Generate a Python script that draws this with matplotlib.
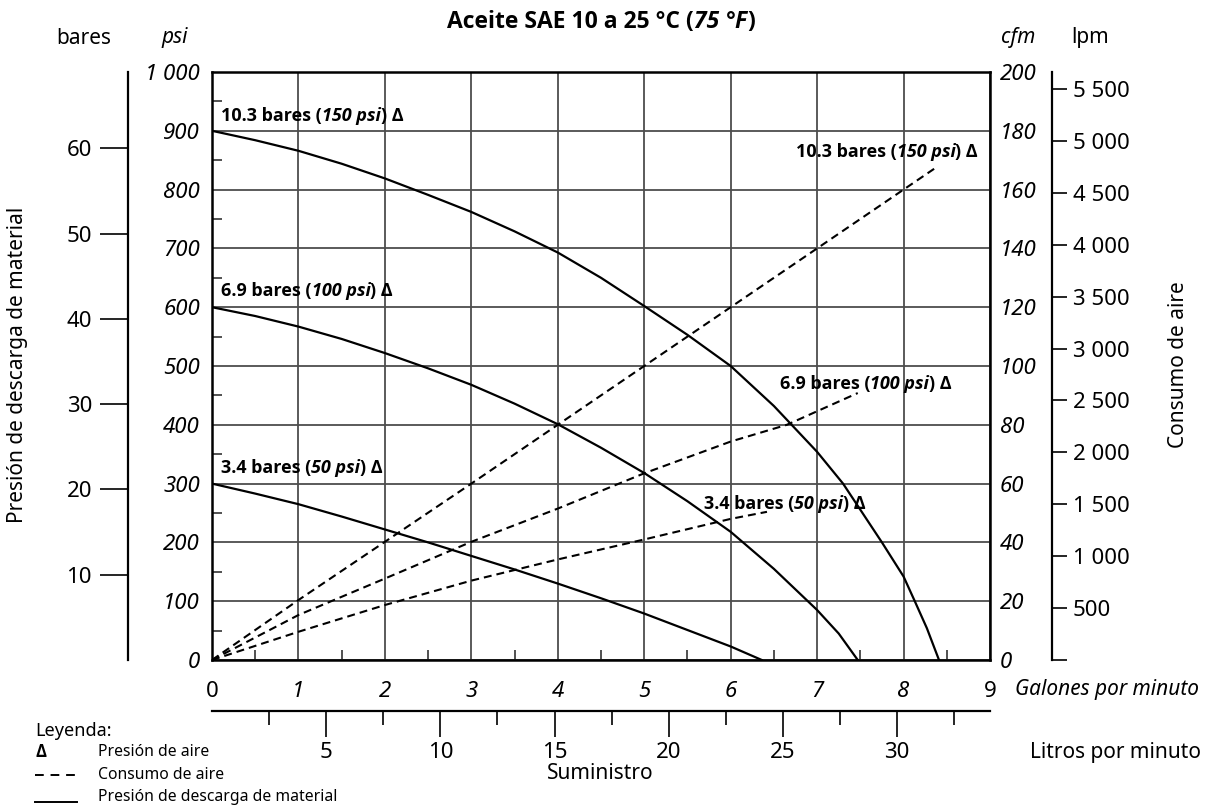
import matplotlib
matplotlib.use('Agg')
import matplotlib.pyplot as plt
from matplotlib import font_manager as fm
from matplotlib.ticker import MultipleLocator, FixedLocator
from matplotlib.lines import Line2D

plt.rcParams['font.family'] = ['Noto Sans', 'DejaVu Sans']


def _w(v):
    if isinstance(v, str):
        return fm.weight_dict.get(v, 400)
    return v


def pick_bold_family():
    cands = ['Noto Sans', 'Open Sans', 'Fira Sans', 'Roboto', 'Lato', 'Inter',
             'Liberation Sans', 'DejaVu Sans']
    for fam in cands:
        ents = [f for f in fm.fontManager.ttflist if f.name == fam]
        b = any(_w(f.weight) >= 600 and f.style == 'normal' for f in ents)
        bi = any(_w(f.weight) >= 600 and f.style in ('italic', 'oblique') for f in ents)
        if b and bi:
            return fam
    return 'DejaVu Sans'


BOLD_FAM = [pick_bold_family(), 'DejaVu Sans']

# ---------------- data ----------------
# material discharge pressure (psi) vs flow (gpm)
gpm_150 = [0, 0.5, 1, 1.5, 2, 2.5, 3, 3.5, 4, 4.5, 5, 5.5, 6, 6.5, 7, 7.3, 7.75, 8,
           8.13, 8.27, 8.41]
psi_150 = [900, 884, 866, 844, 819, 791, 762, 729, 693, 650, 602, 553, 500, 432, 354,
           300, 200, 142, 100, 54, 0]
gpm_100 = [0, 0.5, 1, 1.5, 2, 2.5, 3, 3.5, 4, 4.5, 5, 5.5, 6, 6.5, 7, 7.25, 7.47]
psi_100 = [600, 585, 567, 546, 522, 496, 468, 436, 401, 361, 318, 270, 218, 155, 85,
           45, 0]
gpm_50 = [0, 0.5, 1, 1.5, 2, 2.5, 3, 3.5, 4, 4.5, 5, 5.5, 6, 6.36]
psi_50 = [300, 283, 265, 244, 222, 200, 177, 154, 130, 105, 79, 51, 23, 0]
# air consumption (cfm) vs flow (gpm)
gpm_c150 = [0, 1, 2, 3, 4, 5, 6, 7, 8, 8.4]
cfm_c150 = [0, 20.4, 40.2, 60, 80, 100, 120, 140, 160, 168]
gpm_c100 = [0, 1, 2, 3, 4, 5, 6, 6.65, 7.47]
cfm_c100 = [0, 15.3, 27.7, 40.2, 51.5, 63.5, 74.3, 80, 90.8]
gpm_c50 = [0, 1, 2, 3, 4, 5, 6, 6.42]
cfm_c50 = [0, 9.6, 18.7, 27, 34.2, 41, 48, 50.4]

gpm_ticks = list(range(10))
psi_ticks = list(range(0, 1001, 100))
psi_labels = ['0', '100', '200', '300', '400', '500', '600', '700', '800', '900', '1 000']
cfm_ticks = list(range(0, 201, 20))
bar_ticks = [10, 20, 30, 40, 50, 60]
lpm_ticks = list(range(0, 5501, 500))
lpm_labels = ['', '500', '1 000', '1 500', '2 000', '2 500', '3 000', '3 500',
              '4 000', '4 500', '5 000', '5 500']
lit_major = [5, 10, 15, 20, 25, 30]
lit_minor = [2.5, 7.5, 12.5, 17.5, 22.5, 27.5, 32.5]

PSI_PER_BAR = 14.5038
LPM_PER_CFM = 28.3168
L_PER_GAL = 3.78541
PT = 0.72  # points per pixel at dpi 100

# ---------------- figure ----------------
W, H = 1213, 805
fig = plt.figure(figsize=(W / 100, H / 100), dpi=100)
L, R, T, B = 212, 990, 72, 660
ax = fig.add_axes([L / W, 1 - B / H, (R - L) / W, (B - T) / H])
ax.set_xlim(0, 9)
ax.set_ylim(0, 1000)
ax.set_xticks(gpm_ticks)
ax.set_yticks(psi_ticks)
ax.set_yticklabels(psi_labels)
ax.grid(True, color='#4d4d4d', lw=1.3)
ax.set_axisbelow(True)
ax.xaxis.set_minor_locator(MultipleLocator(0.5))
ax.yaxis.set_minor_locator(MultipleLocator(50))
ax.tick_params(which='major', length=0)
ax.tick_params(axis='y', which='major', labelsize=16, pad=12 * PT)
ax.tick_params(axis='x', which='major', labelsize=16, pad=21 * PT)
ax.tick_params(which='minor', direction='in', length=10 * PT, width=1.2, color='#333333',
               left=True, right=True, bottom=True, top=False)
for lbl in ax.get_yticklabels():
    lbl.set_style('italic')
xl = ax.get_xticklabels()
for i, lbl in enumerate(xl):
    if 0 < i < len(xl) - 1:
        lbl.set_style('italic')
for s in ax.spines.values():
    s.set_linewidth(1.8)

ax2 = ax.twinx()
ax2.set_ylim(0, 200)
ax2.set_yticks(cfm_ticks)
ax2.tick_params(which='major', length=0, labelsize=16, pad=10 * PT)
for lbl in ax2.get_yticklabels():
    lbl.set_style('italic')
for s in ax2.spines.values():
    s.set_visible(False)

# curves
for g, p in [(gpm_150, psi_150), (gpm_100, psi_100), (gpm_50, psi_50)]:
    ax.plot(g, p, color='black', lw=1.6, zorder=5, solid_joinstyle='round')
for g, c in [(gpm_c150, cfm_c150), (gpm_c100, cfm_c100), (gpm_c50, cfm_c50)]:
    ax2.plot(g, c, color='black', lw=1.5, dashes=(3.8, 2.4), zorder=2)

# bares axis
sec_bar = ax.secondary_yaxis(-(L - 128) / (R - L),
                             functions=(lambda p: p / PSI_PER_BAR, lambda b: b * PSI_PER_BAR))
sec_bar.set_yticks(bar_ticks)
sec_bar.tick_params(direction='out', length=28 * PT, width=1.2, pad=8 * PT, labelsize=16)
sec_bar.spines['left'].set_linewidth(1.6)

# lpm axis
sec_lpm = ax2.secondary_yaxis((1052 - L) / (R - L),
                              functions=(lambda c: c * LPM_PER_CFM, lambda l: l / LPM_PER_CFM))
sec_lpm.set_yticks(lpm_ticks)
sec_lpm.set_yticklabels(lpm_labels)
sec_lpm.tick_params(direction='out', length=15 * PT, width=1.2, pad=6 * PT, labelsize=16)
sec_lpm.spines['right'].set_linewidth(1.6)

# litres axis
sec_l = ax.secondary_xaxis(-(711 - B) / (B - T),
                           functions=(lambda g: g * L_PER_GAL, lambda l: l / L_PER_GAL))
sec_l.xaxis.set_major_locator(FixedLocator(lit_major))
sec_l.xaxis.set_minor_locator(FixedLocator(lit_minor))
sec_l.tick_params(which='major', direction='out', length=26 * PT, width=1.2, pad=5 * PT,
                  labelsize=16)
sec_l.tick_params(which='minor', direction='out', length=14 * PT, width=1.2)
sec_l.spines['bottom'].set_linewidth(1.6)

renderer = fig.canvas.get_renderer()


def px(x, y):
    return x / W, 1 - y / H


def rich(parts, x, y, ha='left', size=14):
    """parts: list of (text, style); all bold; x,y in image pixels (y = baseline)."""
    texts = []
    cur = x
    for s, st in parts:
        t = fig.text(cur / W, 1 - y / H, s, fontsize=size, style=st, weight='bold',
                     family=BOLD_FAM, ha='left', va='baseline', zorder=4)
        bb = t.get_window_extent(renderer)
        cur = bb.x1
        texts.append(t)
    total = cur - x
    shift = 0
    if ha == 'right':
        shift = total
    elif ha == 'center':
        shift = total / 2
    for t in texts:
        tx, ty = t.get_position()
        t.set_x(tx - shift / W)
    return texts


def series_label(bar, psi, x, y, ha):
    return rich([(f'{bar} bares (', 'normal'), (f'{psi} psi', 'italic'),
                 (') Δ', 'normal')], x, y, ha=ha, size=13)


series_label('10.3', '150', 221, 121, 'left')
series_label('6.9', '100', 221, 296, 'left')
series_label('3.4', '50', 221, 473, 'left')
series_label('10.3', '150', 978, 157, 'right')
series_label('6.9', '100', 780, 389, 'left')
series_label('3.4', '50', 704, 509, 'left')

# title
rich([('Aceite SAE 10 a 25 °C (', 'normal'), ('75 °F', 'italic'), (')', 'normal')],
     601, 28, ha='center', size=16.5)

# unit headers
fig.text(*px(84, 38), 'bares', fontsize=15, ha='center', va='center')
fig.text(*px(175, 38), 'psi', fontsize=15, style='italic', ha='center', va='center')
fig.text(*px(1018, 38), 'cfm', fontsize=15, style='italic', ha='center', va='center')
fig.text(*px(1090, 38), 'lpm', fontsize=15, ha='center', va='center')

# axis titles
fig.text(*px(18, 365), 'Presión de descarga de material', fontsize=15, rotation=90,
         ha='center', va='center')
fig.text(*px(1178, 365), 'Consumo de aire', fontsize=15, rotation=90,
         ha='center', va='center')
fig.text(*px(1015, 690), 'Galones por minuto', fontsize=15, style='italic',
         ha='left', va='center')
fig.text(*px(1030, 752), 'Litros por minuto', fontsize=15, ha='left', va='center')
fig.text(*px(600, 773), 'Suministro', fontsize=15, ha='center', va='center')

# legend
fig.text(*px(35, 731), 'Leyenda:', fontsize=13, ha='left', va='center')
fig.text(*px(35, 752), 'Δ', fontsize=12, weight='bold', family=BOLD_FAM,
         ha='left', va='center')
fig.text(*px(98, 752), 'Presión de aire', fontsize=11.3, ha='left', va='center')
fig.text(*px(98, 775), 'Consumo de aire', fontsize=11.3, ha='left', va='center')
fig.text(*px(98, 797), 'Presión de descarga de material', fontsize=11.3, ha='left',
         va='center')
fig.add_artist(Line2D([35 / W, 77 / W], [1 - 775 / H, 1 - 775 / H], color='black',
                      lw=1.4, dashes=(4.5, 3.5)))
fig.add_artist(Line2D([35 / W, 77 / W], [1 - 802 / H, 1 - 802 / H], color='black', lw=1.4))

fig.savefig('out.png', dpi=100)
